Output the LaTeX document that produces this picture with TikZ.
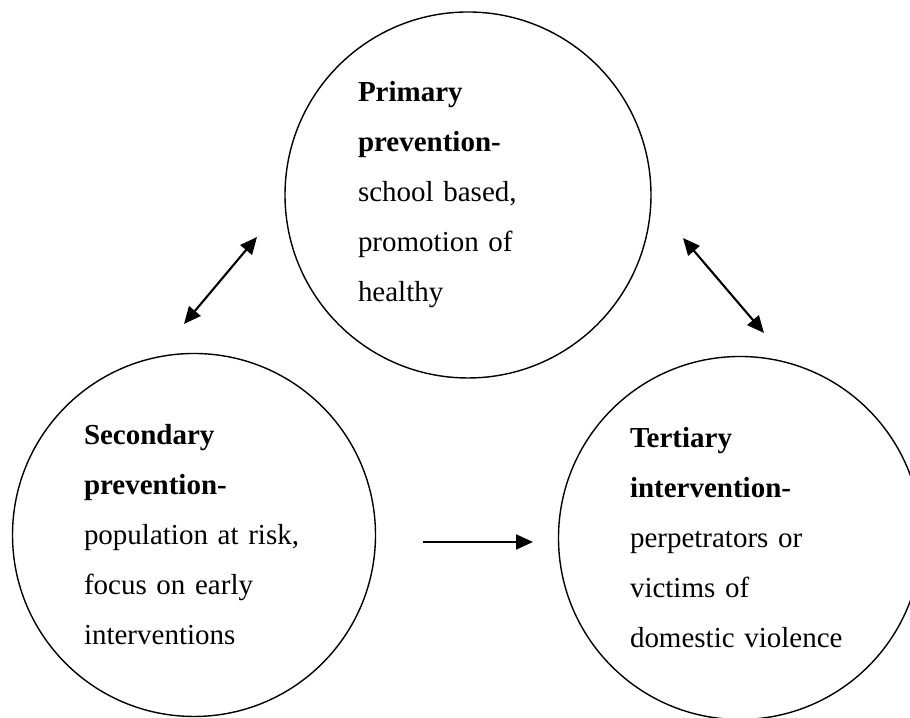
\documentclass[tikz,border=0pt]{standalone}
\usepackage{fontspec}
\setmainfont{Liberation Serif}
\usetikzlibrary{arrows.meta}

\tikzset{
    stage/.style={circle, draw, line width=0.8pt, minimum size=7.26cm, text width=4.4cm, align=left,
        font=\fontsize{16.5}{28.45}\selectfont, inner sep=0pt},
    link/.style={line width=1.2pt, {Triangle[length=3.4mm,width=3mm]}-{Triangle[length=3.4mm,width=3mm]}},
    onelink/.style={line width=1.2pt, -{Triangle[length=3.4mm,width=3mm]}}
}

\begin{document}
\begin{tikzpicture}
        \useasboundingbox (0,0) rectangle (18.2,14.36);

        % Top stage
        \node[stage, minimum size=7.32cm] (primary) at (9.36,10.46) {\textbf{Primary prevention-}\\school based,\\promotion of\\healthy};

        % Lower stages
        \node[stage] (secondary) at (3.88,3.66) {\textbf{Secondary}\\\textbf{prevention-}\\population at risk,\\focus on early\\interventions};
        \node[stage] (tertiary) at (14.8,3.6) {\textbf{Tertiary}\\\textbf{intervention-}\\perpetrators or\\victims of\\domestic violence};

        % Arrow ends
        \coordinate (a1) at (5.14,9.62);
        \coordinate (a2) at (3.68,7.88);
        \coordinate (b1) at (13.66,9.6);
        \coordinate (b2) at (15.28,7.7);
        \coordinate (c1) at (8.46,3.52);
        \coordinate (c2) at (10.66,3.52);

        \draw[link] (a1) -- (a2);
        \draw[link] (b1) -- (b2);
        \draw[onelink] (c1) -- (c2);
    \end{tikzpicture}
\end{document}
